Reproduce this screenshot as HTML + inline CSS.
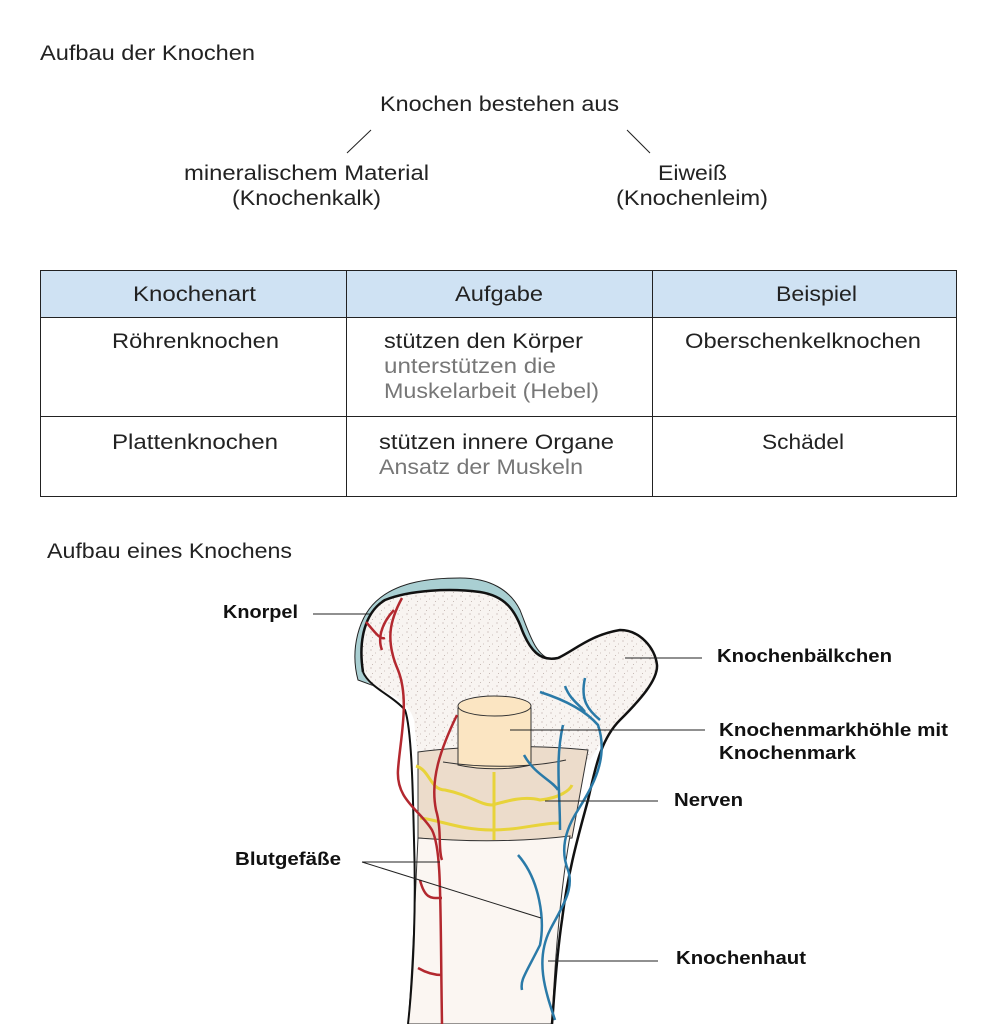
<!DOCTYPE html>
<html><head><meta charset="utf-8"><style>
html,body{margin:0;padding:0;background:#fff}
svg{display:block}
text{font-family:"Liberation Sans",sans-serif}
</style></head><body>
<svg width="998" height="1024" viewBox="0 0 998 1024" xmlns="http://www.w3.org/2000/svg">
<defs>
<pattern id="dots" width="9" height="9" patternUnits="userSpaceOnUse">
<rect width="9" height="9" fill="#f8f4f1"/>
<circle cx="2" cy="2" r="0.6" fill="#b8aaa4"/><circle cx="6.5" cy="5" r="0.5" fill="#c0b2ac"/><circle cx="3.5" cy="7.5" r="0.5" fill="#b8aaa4"/>
</pattern>
</defs>
<g font-size="21" fill="#222" lengthAdjust="spacingAndGlyphs">
<text x="40" y="60" textLength="215" lengthAdjust="spacingAndGlyphs">Aufbau der Knochen</text>
<text x="380" y="111" textLength="239" lengthAdjust="spacingAndGlyphs">Knochen bestehen aus</text>
<text x="184" y="180" textLength="245" lengthAdjust="spacingAndGlyphs">mineralischem Material</text>
<text x="232" y="205" textLength="149" lengthAdjust="spacingAndGlyphs">(Knochenkalk)</text>
<text x="658" y="180" textLength="69" lengthAdjust="spacingAndGlyphs">Eiweiß</text>
<text x="616" y="205" textLength="152" lengthAdjust="spacingAndGlyphs">(Knochenleim)</text>
</g>
<line x1="347" y1="153" x2="371" y2="130" stroke="#222" stroke-width="1"/>
<line x1="627" y1="130" x2="650" y2="153" stroke="#222" stroke-width="1"/>
<rect x="41" y="270" width="916" height="47" fill="#cfe2f3"/>
<g stroke="#222" stroke-width="1" fill="none">
<rect x="40.5" y="270.5" width="916" height="226"/>
<line x1="40" y1="317.5" x2="957" y2="317.5"/>
<line x1="40" y1="416.5" x2="957" y2="416.5"/>
<line x1="346.5" y1="270" x2="346.5" y2="497"/>
<line x1="652.5" y1="270" x2="652.5" y2="497"/>
</g>
<g font-size="21" fill="#222">
<text x="133" y="301" textLength="123" lengthAdjust="spacingAndGlyphs">Knochenart</text>
<text x="455" y="301" textLength="88" lengthAdjust="spacingAndGlyphs">Aufgabe</text>
<text x="776" y="301" textLength="81" lengthAdjust="spacingAndGlyphs">Beispiel</text>
<text x="112" y="348" textLength="167" lengthAdjust="spacingAndGlyphs">Röhrenknochen</text>
<text x="384" y="348" textLength="199" lengthAdjust="spacingAndGlyphs">stützen den Körper</text>
<text x="384" y="373" textLength="172" lengthAdjust="spacingAndGlyphs" fill="#777">unterstützen die</text>
<text x="384" y="398" textLength="215" lengthAdjust="spacingAndGlyphs" fill="#777">Muskelarbeit (Hebel)</text>
<text x="685" y="348" textLength="236" lengthAdjust="spacingAndGlyphs">Oberschenkelknochen</text>
<text x="112" y="449" textLength="166" lengthAdjust="spacingAndGlyphs">Plattenknochen</text>
<text x="379" y="449" textLength="235" lengthAdjust="spacingAndGlyphs">stützen innere Organe</text>
<text x="379" y="474" textLength="204" lengthAdjust="spacingAndGlyphs" fill="#777">Ansatz der Muskeln</text>
<text x="762" y="449" textLength="82" lengthAdjust="spacingAndGlyphs">Schädel</text>
<text x="47" y="558" textLength="245" lengthAdjust="spacingAndGlyphs">Aufbau eines Knochens</text>
</g>
<!-- bone -->
<path d="M358,680 C350,650 358,615 380,598 C400,582 430,578 460,578 C490,578 510,590 520,610 C530,635 535,655 552,660 L548,668 C530,665 520,640 512,620 C500,598 470,592 440,594 C410,596 385,605 376,630 C370,650 372,668 385,690 Z" fill="#a9cfd2" stroke="#222" stroke-width="1"/>
<path d="M363,672 C358,640 365,612 385,600 C410,590 450,588 480,592 C505,596 515,610 522,630 C530,650 540,662 558,658 C575,650 590,635 620,630 C640,630 655,648 657,665 C658,680 640,700 620,720 C605,735 600,745 590,760 L418,760 L414,720 C410,705 395,695 380,690 C370,685 365,680 363,672 Z" fill="url(#dots)" stroke="none"/>
<path d="M418,752 C470,745 540,745 588,750 L572,838 C520,842 460,842 418,838 Z" fill="#ecdccb" stroke="#333" stroke-width="1"/>
<path d="M418,838 C470,842 520,842 570,836 C562,880 555,950 552,1024 L408,1024 C412,980 415,900 418,838 Z" fill="#fbf6f2" stroke="#333" stroke-width="1"/>
<path d="M363,672 C358,640 365,612 385,600 C410,590 450,588 480,592 C505,596 515,610 522,630 C530,650 540,662 558,658 C575,650 590,635 620,630 C640,630 655,648 657,665 C658,680 640,700 620,720 C600,740 595,770 588,800 C580,830 568,870 562,920 C556,960 554,1000 552,1024" fill="none" stroke="#111" stroke-width="2.5"/>
<path d="M363,672 C370,688 392,695 405,710 C412,730 413,800 414,840 C416,900 414,970 408,1024" fill="none" stroke="#111" stroke-width="2"/>
<!-- cylinder -->
<path d="M458,708 L458,765 C480,770 510,770 531,765 L531,708 Z" fill="#fbe5c2" stroke="#333" stroke-width="1"/>
<ellipse cx="494.5" cy="706" rx="36.5" ry="10" fill="#fbe5c2" stroke="#333" stroke-width="1"/>
<path d="M443,762 C480,768 530,768 566,760" fill="none" stroke="#333" stroke-width="1"/>
<!-- nerves -->
<g fill="none" stroke="#e8d33a" stroke-width="3">
<path d="M416,766 C430,770 430,790 445,790 C470,795 480,805 492,805 C510,800 525,796 540,800 C560,798 570,790 572,785"/>
<path d="M420,818 C440,820 460,830 492,830 C520,830 540,823 560,823"/>
<path d="M494,772 L494,840"/>
</g>
<!-- red vessels -->
<g fill="none" stroke="#b3282f" stroke-width="2.5">
<path d="M402,598 C390,620 385,640 398,670 C410,700 400,740 398,770 C396,800 420,810 432,830 C442,850 440,900 442,1024"/>
<path d="M366,622 C375,632 380,640 385,638"/>
<path d="M394,610 C380,625 378,640 382,650"/>
<path d="M457,715 C440,750 430,780 436,810 C442,830 438,850 442,860"/>
<path d="M420,880 C425,900 432,898 442,898"/>
<path d="M418,968 C430,975 440,975 442,975"/>
</g>
<!-- blue vessels -->
<g fill="none" stroke="#2a7aa8" stroke-width="2.5">
<path d="M540,692 C565,700 585,710 598,725 C610,760 590,790 578,810 C565,830 560,850 568,870 C575,890 560,910 550,930 C535,960 545,990 555,1020"/>
<path d="M585,678 C580,700 588,710 600,720"/>
<path d="M565,686 C570,700 580,705 585,712"/>
<path d="M563,725 C555,760 560,790 560,830"/>
<path d="M524,755 C535,775 552,780 558,790"/>
<path d="M518,855 C540,880 545,920 540,945 C525,975 520,980 522,990"/>
</g>
<!-- leaders -->
<g stroke="#222" stroke-width="1">
<line x1="313" y1="614" x2="370" y2="614"/>
<line x1="625" y1="658" x2="702" y2="658"/>
<line x1="510" y1="730" x2="705" y2="730"/>
<line x1="545" y1="801" x2="658" y2="801"/>
<line x1="362" y1="862" x2="440" y2="862"/>
<line x1="362" y1="862" x2="541" y2="918"/>
<line x1="548" y1="961" x2="658" y2="961"/>
</g>
<g font-size="18" font-weight="bold" fill="#111">
<text x="223" y="618" textLength="75" lengthAdjust="spacingAndGlyphs">Knorpel</text>
<text x="717" y="662" textLength="175" lengthAdjust="spacingAndGlyphs">Knochenbälkchen</text>
<text x="719" y="736" textLength="229" lengthAdjust="spacingAndGlyphs">Knochenmarkhöhle mit</text>
<text x="719" y="759" textLength="137" lengthAdjust="spacingAndGlyphs">Knochenmark</text>
<text x="674" y="806" textLength="69" lengthAdjust="spacingAndGlyphs">Nerven</text>
<text x="235" y="865" textLength="106" lengthAdjust="spacingAndGlyphs">Blutgefäße</text>
<text x="676" y="964" textLength="130" lengthAdjust="spacingAndGlyphs">Knochenhaut</text>
</g>
</svg>
</body></html>
